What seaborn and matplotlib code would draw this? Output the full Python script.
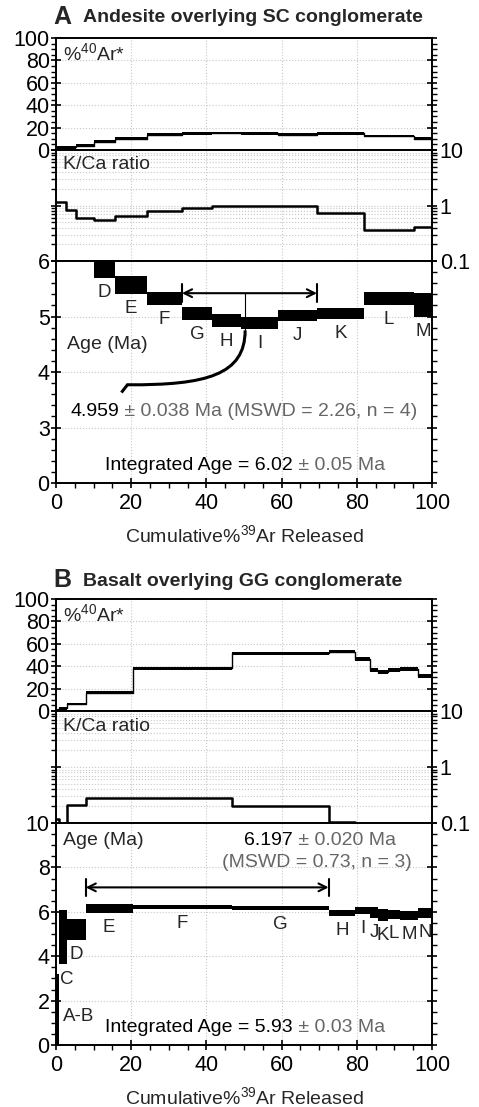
import numpy as np
import matplotlib
matplotlib.use("Agg")
import matplotlib.pyplot as plt
import seaborn as sns
from matplotlib.ticker import MultipleLocator, FixedLocator, LogLocator, NullFormatter, FixedFormatter
from matplotlib.offsetbox import TextArea, HPacker, AnnotationBbox
from matplotlib.path import Path
from matplotlib.patches import PathPatch

nan = np.nan

# ---------------- data: panel A (Andesite overlying SC conglomerate) ----------------
A_steps = ['A', 'B', 'C', 'D', 'E', 'F', 'G', 'H', 'I', 'J', 'K', 'L', 'M']
A_edges = [0, 2.6, 5.4, 10.2, 15.7, 24.2, 33.5, 41.5, 49.2, 59.0, 69.4, 81.9, 95.2, 100]
A_ar40 = [2.4, 2.4, 3.9, 7.5, 10.0, 13.7, 15.0, 15.2, 15.0, 13.5, 15.0, 12.5, 10.0]
A_ar40_err = [1.3] * 13
A_kca = [1.16, 0.82, 0.60, 0.54, 0.65, 0.80, 0.90, 0.97, 0.97, 0.97, 0.72, 0.36, 0.41]
A_age = [nan, nan, nan, 5.87, 5.57, 5.33, 5.055, 4.93, 4.885, 5.015, 5.06, 5.33, 5.215]
A_age_err = [nan, nan, nan, 0.17, 0.16, 0.12, 0.115, 0.12, 0.115, 0.095, 0.10, 0.12, 0.215]
A_plateau = (33.5, 69.4)

# ---------------- data: panel B (Basalt overlying GG conglomerate) ----------------
B_steps = ['A-B', 'C', 'D', 'E', 'F', 'G', 'H', 'I', 'J', 'K', 'L', 'M', 'N']
B_edges = [0, 0.8, 3.0, 7.9, 20.4, 46.7, 72.5, 79.5, 83.5, 85.6, 88.3, 91.5, 96.3, 100]
B_ar40 = [0.8, 2.4, 6.3, 16.4, 38.1, 51.5, 53.0, 46.2, 36.6, 35.1, 36.6, 37.5, 31.5]
B_ar40_err = [1.0, 1.2, 1.2, 1.2, 1.2, 1.2, 1.5, 1.9, 2.1, 1.8, 2.0, 1.8, 1.8]
B_kca = [0.12, 0.08, 0.21, 0.275, 0.275, 0.20, 0.105, 0.08, 0.08, 0.08, 0.08, 0.08, 0.08]
B_age = [1.0, 4.855, 5.21, 6.15, 6.225, 6.18, 5.955, 6.065, 5.96, 5.855, 5.88, 5.83, 5.95]
B_age_err = [2.2, 1.225, 0.47, 0.20, 0.095, 0.10, 0.125, 0.165, 0.24, 0.275, 0.20, 0.19, 0.22]
B_plateau = (7.9, 72.5)

x_ticks = [0, 20, 40, 60, 80, 100]
ar_ticks = [0, 20, 40, 60, 80, 100]
kca_ticks = [0.1, 1, 10]
kca_ticklabels = ['0.1', '1', '10']
A_age_ticks = [0, 3, 4, 5, 6]
B_age_ticks = [0, 2, 4, 6, 8, 10]

# ---------------- style ----------------
sns.set_theme(style="ticks")
plt.rcParams['font.family'] = ['Liberation Sans', 'DejaVu Sans']
plt.rcParams['mathtext.fontset'] = 'custom'
plt.rcParams['mathtext.rm'] = 'Liberation Sans'
plt.rcParams['mathtext.it'] = 'Liberation Sans:italic'
plt.rcParams['mathtext.bf'] = 'Liberation Sans:bold'

W, H = 479, 1107
fig = plt.figure(figsize=(W / 100, H / 100), dpi=100)
fig.patch.set_facecolor('white')

FS = 14
TICK_FS = 15.5
STEP_FS = 13.5
GRAY = '#666666'
GRID = dict(color='#c8c8c8', linestyle=':', linewidth=0.8)
SPINE_LW = 1.4


def add_ax(top, bottom):
    return fig.add_axes([56 / W, 1 - bottom / H, 376 / W, (bottom - top) / H])


def style_ax(ax):
    for s in ax.spines.values():
        s.set_linewidth(SPINE_LW)
        s.set_color('black')
        s.set_visible(True)
    ax.set_facecolor('white')
    ax.tick_params(which='major', direction='inout', length=7, width=1.2, labelsize=TICK_FS, colors='black', pad=1)
    ax.tick_params(which='minor', direction='out', length=3.5, width=1.0, colors='black')
    ax.set_xlim(0, 100)
    ax.xaxis.set_major_locator(FixedLocator(x_ticks))
    ax.xaxis.set_minor_locator(MultipleLocator(5))
    ax.set_axisbelow(True)


def step_xy(edges, vals):
    return list(edges), list(vals) + [vals[-1]]


def mixed_text(ax, x, y, parts, fs=FS):
    tas = [TextArea(s, textprops=dict(color=c, fontsize=fs, family=['Liberation Sans', 'DejaVu Sans'])) for s, c in parts]
    box = HPacker(children=tas, align='baseline', pad=0, sep=0)
    ab = AnnotationBbox(box, (x, y), xycoords=ax.transAxes, frameon=False, box_alignment=(0.5, 0.5), pad=0)
    ax.add_artist(ab)


def ar40_panel(ax, edges, vals, errs):
    style_ax(ax)
    xs, ys = step_xy(edges, vals)
    sns.lineplot(x=xs, y=ys, drawstyle='steps-post', color='black', lw=1.0, ax=ax, estimator=None, sort=False)
    widths = np.diff(edges)
    ax.bar(edges[:-1], 2 * np.array(errs), width=widths, bottom=np.array(vals) - np.array(errs),
           align='edge', color='black', edgecolor='none', linewidth=0)
    ax.set_ylim(0, 100)
    ax.yaxis.set_major_locator(FixedLocator(ar_ticks))
    ax.yaxis.set_minor_locator(MultipleLocator(5))
    ax.tick_params(axis='x', which='both', bottom=False, top=False, labelbottom=False)
    ax.tick_params(axis='y', which='both', left=True, right=True, labelleft=True, labelright=False)
    ax.grid(True, which='major', **GRID)
    ax.text(0.019, 0.866, '%$\\mathregular{^{40}}$Ar*', transform=ax.transAxes, fontsize=FS, va='center', ha='left')
    ax.set_xlabel('')
    ax.set_ylabel('')


def kca_panel(ax, edges, vals):
    style_ax(ax)
    ax.set_yscale('log')
    ax.set_ylim(0.1, 10)
    xs, ys = step_xy(edges, vals)
    sns.lineplot(x=xs, y=ys, drawstyle='steps-post', color='black', lw=1.8, ax=ax, estimator=None, sort=False)
    ax.set_ylim(0.1, 10)
    ax.yaxis.set_major_locator(FixedLocator(kca_ticks))
    ax.yaxis.set_major_formatter(FixedFormatter(kca_ticklabels))
    ax.yaxis.set_minor_locator(LogLocator(base=10, subs=np.arange(2, 10)))
    ax.yaxis.set_minor_formatter(NullFormatter())
    ax.tick_params(axis='x', which='both', bottom=False, top=False, labelbottom=False)
    ax.tick_params(axis='y', which='both', left=True, right=True, labelleft=False, labelright=True)
    ax.tick_params(axis='y', which='major', pad=2)
    ax.grid(True, which='major', axis='x', **GRID)
    ax.grid(True, which='both', axis='y', **GRID)
    ax.text(0.019, 0.865, 'K/Ca ratio', transform=ax.transAxes, fontsize=FS, va='center', ha='left')
    ax.set_xlabel('')
    ax.set_ylabel('')


def age_boxes(ax, edges, ages, errs):
    ages = np.array(ages, float)
    errs = np.array(errs, float)
    ok = ~np.isnan(ages)
    e0 = np.array(edges[:-1])[ok]
    w = np.diff(edges)[ok]
    ax.bar(e0, 2 * errs[ok], width=w, bottom=ages[ok] - errs[ok], align='edge',
           color='black', edgecolor='none', linewidth=0)


def step_labels(ax, edges, ages, errs, names, skip=(), dx=None):
    dx = dx or {}
    for i, n in enumerate(names):
        if np.isnan(ages[i]) or n in skip:
            continue
        cx = 0.5 * (edges[i] + edges[i + 1])
        bot = ages[i] - errs[i]
        ax.annotate(n, xy=(cx, bot), xytext=(dx.get(n, 0), -10.6), textcoords='offset points',
                    ha='center', va='center', fontsize=STEP_FS)


def plateau_arrow(ax, x0, x1, y, half):
    ax.annotate('', xy=(x0, y), xytext=(x1, y),
                arrowprops=dict(arrowstyle='<->', color='black', lw=1.5, mutation_scale=14,
                                shrinkA=0, shrinkB=0))
    ax.plot([x0, x0], [y - half, y + half], color='black', lw=1.5)
    ax.plot([x1, x1], [y - half, y + half], color='black', lw=1.5)


# ====================== Panel A ======================
axA1 = add_ax(38, 150)
axA2 = add_ax(150, 261)
axA3 = add_ax(261, 483)

ar40_panel(axA1, A_edges, A_ar40, A_ar40_err)
kca_panel(axA2, A_edges, A_kca)

style_ax(axA3)


def fwdA(y):
    y = np.asarray(y, float)
    return np.where(y >= 3, y, 2 + y / 3.0)


def invA(f):
    f = np.asarray(f, float)
    return np.where(f >= 3, f, 3.0 * (f - 2))


axA3.set_yscale('function', functions=(fwdA, invA))
age_boxes(axA3, A_edges, A_age, A_age_err)
axA3.set_ylim(0, 6)
axA3.yaxis.set_major_locator(FixedLocator(A_age_ticks))
axA3.yaxis.set_major_formatter(FixedFormatter([str(t) for t in A_age_ticks]))
axA3.yaxis.set_minor_locator(FixedLocator([0.6, 1.2, 1.8, 2.4] + [3 + 0.2 * k for k in range(1, 15) if k % 5 != 0]))
axA3.yaxis.set_minor_formatter(NullFormatter())
axA3.tick_params(axis='y', which='both', left=True, right=True, labelleft=True, labelright=False)
axA3.tick_params(axis='x', which='both', bottom=True, top=False, labelbottom=True, pad=4)
axA3.grid(True, which='major', **GRID)
step_labels(axA3, A_edges, np.array(A_age), np.array(A_age_err), A_steps)
plateau_arrow(axA3, A_plateau[0], A_plateau[1], 5.42, 0.16)
# leader from plateau arrow to the plateau age text
xm = 50.3
axA3.plot([xm, xm], [5.42, 4.75], color='black', lw=0.8)
verts = [(xm, 4.75), (xm, 3.95), (40.0, 3.76), (19.0, 3.77), (17.4, 3.63)]
codes = [Path.MOVETO, Path.CURVE4, Path.CURVE4, Path.CURVE4, Path.LINETO]
axA3.add_patch(PathPatch(Path(verts, codes), fill=False, lw=2.2, edgecolor='black', capstyle='butt'))
axA3.text(0.029, 0.626, 'Age (Ma)', transform=axA3.transAxes, fontsize=FS, va='center', ha='left')
mixed_text(axA3, 0.500, 0.324, [('4.959', 'black'), (' ± 0.038 Ma (MSWD = 2.26, n = 4)', GRAY)])
mixed_text(axA3, 0.503, 0.081, [('Integrated Age = 6.02', 'black'), (' ± 0.05 Ma', GRAY)])
axA3.set_xlabel('Cumulative%$\\mathregular{^{39}}$Ar Released', fontsize=FS, labelpad=7)
axA3.set_ylabel('')

fig.text(53 / W, 1 - 17 / H, 'A', fontsize=18, fontweight='bold', va='center', ha='left')
fig.text(83 / W, 1 - 18 / H, 'Andesite overlying SC conglomerate', fontsize=14, fontweight='bold',
         va='center', ha='left')

# ====================== Panel B ======================
axB1 = add_ax(599, 711)
axB2 = add_ax(711, 823)
axB3 = add_ax(823, 1045)

ar40_panel(axB1, B_edges, B_ar40, B_ar40_err)
kca_panel(axB2, B_edges, B_kca)

style_ax(axB3)
age_boxes(axB3, B_edges, B_age, B_age_err)
axB3.set_ylim(0, 10)
axB3.yaxis.set_major_locator(FixedLocator(B_age_ticks))
axB3.yaxis.set_minor_locator(MultipleLocator(0.5))
axB3.tick_params(axis='y', which='both', left=True, right=True, labelleft=True, labelright=False)
axB3.tick_params(axis='x', which='both', bottom=True, top=False, labelbottom=True, pad=4)
axB3.grid(True, which='major', **GRID)
step_labels(axB3, B_edges, np.array(B_age), np.array(B_age_err), B_steps, skip=('A-B',), dx={'C': 2.5})
axB3.text(5.9, 1.3, 'A-B', fontsize=STEP_FS, ha='center', va='center')
plateau_arrow(axB3, B_plateau[0], B_plateau[1], 7.1, 0.4)
axB3.text(0.019, 0.923, 'Age (Ma)', transform=axB3.transAxes, fontsize=FS, va='center', ha='left')
mixed_text(axB3, 0.702, 0.923, [('6.197', 'black'), (' ± 0.020 Ma', GRAY)])
axB3.text(0.694, 0.820, '(MSWD = 0.73, n = 3)', transform=axB3.transAxes, fontsize=FS, color=GRAY,
          ha='center', va='center')
mixed_text(axB3, 0.503, 0.078, [('Integrated Age = 5.93', 'black'), (' ± 0.03 Ma', GRAY)])
axB3.set_xlabel('Cumulative%$\\mathregular{^{39}}$Ar Released', fontsize=FS, labelpad=7)
axB3.set_ylabel('')

fig.text(53 / W, 1 - 580 / H, 'B', fontsize=18, fontweight='bold', va='center', ha='left')
fig.text(83 / W, 1 - 581 / H, 'Basalt overlying GG conglomerate', fontsize=14, fontweight='bold',
         va='center', ha='left')

fig.savefig('out.png', dpi=100, facecolor='white')
